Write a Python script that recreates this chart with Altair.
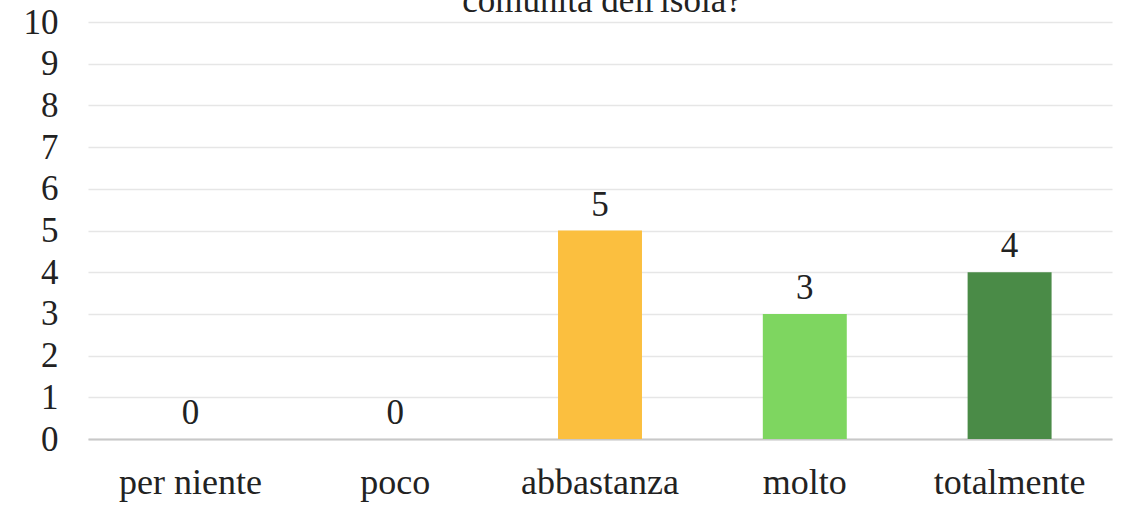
import altair as alt
import pandas as pd

categories = ["per niente", "poco", "abbastanza", "molto", "totalmente"]
values = [0, 0, 5, 3, 4]
colors = ["#e84b3c", "#f08a3c", "#fbbf3f", "#7ed660", "#4a8b47"]
title_text = "comunità dell'isola?"

df = pd.DataFrame({"cat": categories, "val": values})
FONT = "Liberation Serif"

x = alt.X("cat:N", sort=categories, title=None,
          scale=alt.Scale(paddingInner=0.59, paddingOuter=0.295),
          axis=alt.Axis(labelAngle=0, labelFont=FONT, labelFontSize=36, labelColor="#222",
                        labelPadding=26, ticks=False, domainColor="#c8c8c8", domainWidth=2,
                        grid=False))
y = alt.Y("val:Q", title=None,
          scale=alt.Scale(domain=[0, 10], nice=False),
          axis=alt.Axis(values=list(range(11)), labelFont=FONT, labelFontSize=35,
                        labelColor="#222", labelPadding=30, ticks=False, domain=False,
                        gridColor="#e6e6e6", gridWidth=1.5))

bars = alt.Chart(df).mark_bar().encode(
    x=x, y=y,
    color=alt.Color("cat:N", scale=alt.Scale(domain=categories, range=colors), legend=None),
)
labels = alt.Chart(df).mark_text(font=FONT, fontSize=35, baseline="bottom", dy=-8, color="#222").encode(
    x=alt.X("cat:N", sort=categories), y=alt.Y("val:Q"), text="val:Q"
)
title = alt.Chart(pd.DataFrame({"t": [title_text]})).mark_text(
    font=FONT, fontSize=35, baseline="alphabetic", align="center", color="#222"
).encode(x=alt.value(514), y=alt.value(-10), text="t:N")

chart = alt.layer(bars, labels, title).properties(
    width=1024, height=417,
    autosize=alt.AutoSizeParams(type="none"),
    padding={"left": 88, "top": 22, "right": 11, "bottom": 66},
).configure(background="white", view=alt.ViewConfig(stroke=None))

chart.save("out.html", embed_options={"renderer": "svg", "actions": False})
